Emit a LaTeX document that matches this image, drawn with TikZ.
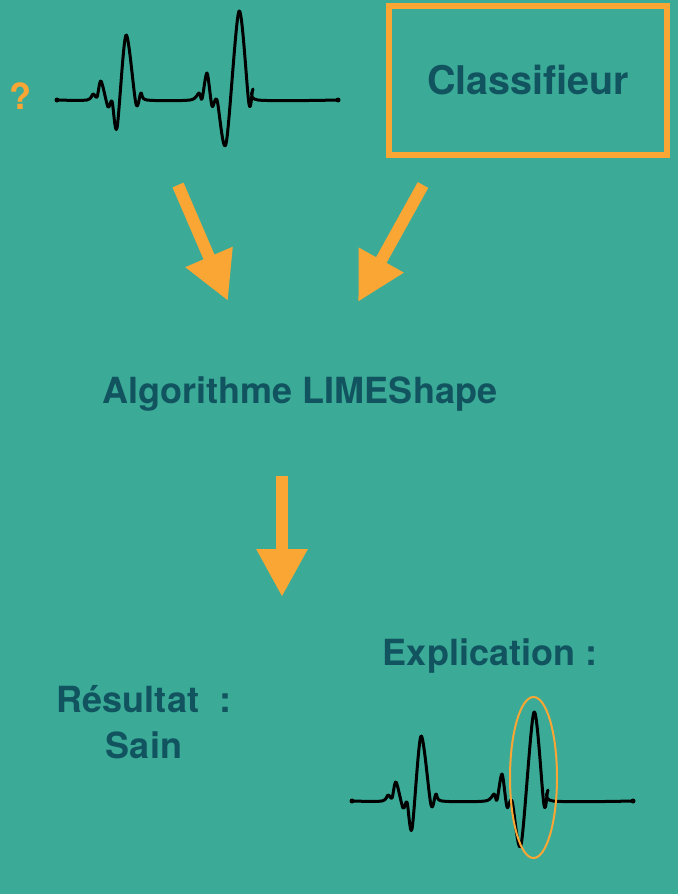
\documentclass[tikz,border=0pt]{standalone}
\usepackage{fontspec}
\setmainfont{TeX Gyre Heros}
\usetikzlibrary{arrows.meta, positioning}
\definecolor{fond}{RGB}{59,171,151}
\definecolor{encre}{RGB}{17,84,96}
\definecolor{fleche}{RGB}{250,166,52}
\tikzset{
  lbl/.style={text=encre, font=\bfseries\fontsize{36}{46}\selectfont, inner sep=0pt},
  bigarrow/.style={draw=fleche, line width=12pt, -{Triangle[length=48pt,width=48pt]}},
  ecgline/.style={line width=3pt, line join=round, line cap=round},
  heartbeat/.pic={
    \draw[ecgline] plot[smooth, tension=0.5] coordinates {(0,0) (30,0) (36,-6) (40,-3) (44,-19)
      (51,7) (55,1) (60,28) (69,-65) (79,4) (84,-7) (90,0) (133,0) (142,-7) (145,-1) (150,-27)
      (155,6) (160,0) (169,44) (182,-89) (192,4) (196,-11) (201,0) (281,0)};
    \fill (0,0) circle (2.5pt);
    \fill (281,0) circle (2.5pt);
  }
}

\begin{document}
\begin{tikzpicture}[x=1pt, y=-1pt]
  \fill[fond] (0,0) rectangle (678,894);
  \useasboundingbox (0,0) rectangle (678,894);
%% input signal and classifier
  \node[lbl, text=fleche, anchor=base] (qm) at (20,109) {?};
  \pic at (57,100) {heartbeat};
  \node[lbl, draw=fleche, line width=6pt, minimum width=278pt, minimum height=149pt,
        font=\bfseries\fontsize{39.5}{46}\selectfont] (clf) at (528,80.5) {Classifieur};
%% arrows into the algorithm
  \coordinate (ecgout) at (178,185);
  \coordinate (ecgin) at (228,301);
  \coordinate (clfout) at (423,185);
  \coordinate (clfin) at (358,302);
  \draw[bigarrow] (ecgout) -- (ecgin);
  \draw[bigarrow] (clfout) -- (clfin);
%% algorithm
  \node[lbl, anchor=base] (algo) at (300,403) {Algorithme LIMEShape};
  \coordinate (algoout) at (282,476);
  \coordinate (algoin) at (282,597);
  \draw[bigarrow] (algoout) -- (algoin);
%% result and explanation
  \node[lbl, align=center, anchor=base] (res) at (144,758) {Résultat\ \ :\\Sain};
  \node[lbl, anchor=base] (expl) at (490,665) {Explication :};
  \pic at (352,801) {heartbeat};
  \coordinate (focus) at (533.5,777.5);
  \draw[fleche, line width=2pt] (focus) ellipse [x radius=23.5, y radius=80.5];
\end{tikzpicture}
\end{document}
